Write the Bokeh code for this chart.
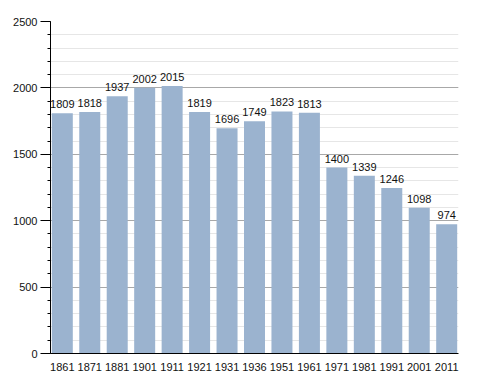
from bokeh.plotting import figure
from bokeh.models import ColumnDataSource, Range1d, FixedTicker, LabelSet
from bokeh.core.properties import value
from bokeh.embed import file_html
from bokeh.resources import INLINE

years = ["1861", "1871", "1881", "1901", "1911", "1921", "1931", "1936",
         "1951", "1961", "1971", "1981", "1991", "2001", "2011"]
population = [1809, 1818, 1937, 2002, 2015, 1819, 1696, 1749,
              1823, 1813, 1400, 1339, 1246, 1098, 974]

idx = list(range(len(years)))
src = ColumnDataSource(dict(x=idx, y=population, lbl=[str(v) for v in population]))

p = figure(width=478, height=373, output_backend="svg", toolbar_location=None,
           x_range=Range1d(-0.43, len(years) - 1 + 0.43), y_range=Range1d(0, 2500),
           min_border_left=50, min_border_right=20, min_border_top=21, min_border_bottom=16)
p.outline_line_color = None
p.background_fill_color = "white"

p.vbar(x="x", top="y", width=0.765, source=src, fill_color="#9bb3cf", line_color=None)

labels = LabelSet(x="x", y="y", text="lbl", source=src, text_align="center",
                  text_baseline="alphabetic", y_offset=5, text_font=value("Liberation Sans"),
                  text_font_size=value("11px"), text_color=value("#111111"))
p.add_layout(labels)

p.xaxis.ticker = FixedTicker(ticks=idx)
p.xaxis.major_label_overrides = {i: y for i, y in enumerate(years)}
p.xaxis.major_tick_line_color = None
p.xaxis.minor_tick_line_color = None
p.xaxis.axis_line_color = "black"
p.xaxis.major_label_standoff = 3
p.xaxis.major_label_text_font = "Liberation Sans"
p.xaxis.major_label_text_font_size = "11px"
p.xaxis.major_label_text_color = "#111111"
p.xgrid.grid_line_color = None

p.yaxis.ticker = FixedTicker(ticks=[0, 500, 1000, 1500, 2000, 2500],
                             minor_ticks=list(range(0, 2501, 100)))
p.yaxis.axis_line_color = "black"
p.yaxis.major_tick_out = 10
p.yaxis.major_tick_in = 0
p.yaxis.minor_tick_out = 3
p.yaxis.minor_tick_in = 0
p.yaxis.major_tick_line_color = "black"
p.yaxis.minor_tick_line_color = "black"
p.yaxis.major_label_standoff = 3
p.yaxis.major_label_text_font = "Liberation Sans"
p.yaxis.major_label_text_font_size = "11px"
p.yaxis.major_label_text_color = "#111111"
p.ygrid.grid_line_color = "#a8a8a8"
p.ygrid.minor_grid_line_color = "#e6e6e6"
p.ygrid.level = "underlay"

open("out.html", "w").write(file_html(p, INLINE))
